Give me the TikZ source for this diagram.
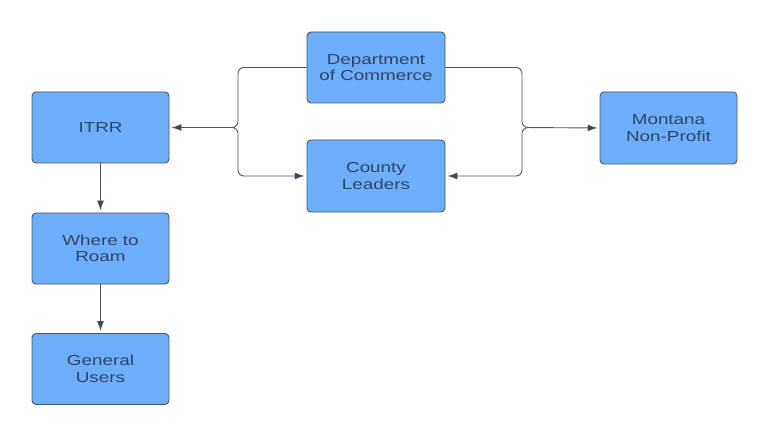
\documentclass[tikz,border=0pt]{standalone}
\usepackage{fontspec}
\newfontfamily\lab[FakeStretch=1.3]{Liberation Sans}
\usetikzlibrary{arrows.meta}
\definecolor{boxfill}{HTML}{6DAFFA}
\definecolor{boxline}{HTML}{4A5563}
\definecolor{txt}{HTML}{2F4466}
\definecolor{conn}{HTML}{4F555E}
\definecolor{tip}{HTML}{3A4250}
\begin{document}
\begin{tikzpicture}[x=1pt,y=-1pt,
  box/.style={draw=boxline, line width=0.9pt, fill=boxfill, rounded corners=4pt,
    minimum width=137pt, minimum height=71pt, inner sep=0pt, align=center,
    text=txt, font=\lab\fontsize{14.5}{16.5}\selectfont},
  arr/.style={draw=conn, line width=0.9pt, -{Latex[length=10pt,width=7pt,fill=tip]}, shorten >=2pt},
  ln/.style={draw=conn, line width=0.9pt}]
\useasboundingbox (0,0) rectangle (778,430);
\fill[white] (0,0) rectangle (778,430);
\node[box] (itrr) at (100.5,127.5) {ITRR};
\node[box] (roam) at (100.5,248.5) {Where to\\Roam};
\node[box] (users) at (100.5,369) {General\\Users};
\node[box, minimum width=138pt] (dept) at (376,67.5) {Department\\of Commerce};
\node[box, minimum width=138pt, minimum height=72pt] (county) at (376,176) {County\\Leaders};
\node[box, minimum height=72pt] (mont) at (668.5,128) {Montana\\Non-Profit};
\coordinate (lb) at (231,127.5);
\coordinate (rb) at (529,127.5);
\draw[arr, rounded corners=6pt] (dept.west) -| (238,127.5) -- (itrr.east);
\draw[arr, rounded corners=6pt] (lb) -- (238,127.5) |- (county.west);
\draw[arr, rounded corners=6pt] (dept.east) -| (522,127.5) -- (mont.west);
\draw[arr, rounded corners=6pt] (rb) -- (522,127.5) |- (county.east);
\draw[arr] (itrr.south) -- (roam.north);
\draw[arr] (roam.south) -- (users.north);
\end{tikzpicture}
\end{document}
